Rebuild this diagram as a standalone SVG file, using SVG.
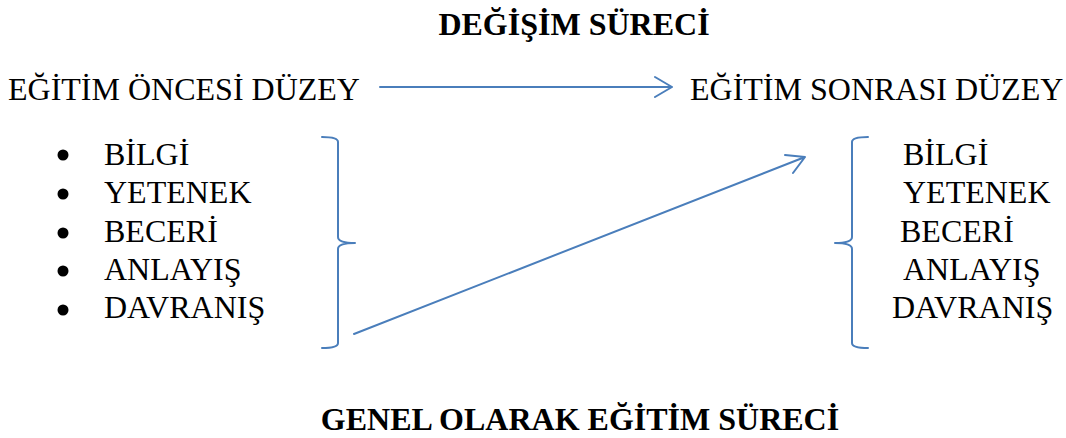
<svg xmlns="http://www.w3.org/2000/svg" width="1066" height="438" viewBox="0 0 1066 438">
<style>
text{font-family:"Liberation Serif","Times New Roman",serif;font-size:32px;fill:#000}
.b{font-weight:bold}
.ln{fill:none;stroke:#4A7EBB;stroke-width:2;stroke-linecap:round;stroke-linejoin:round}
</style>
<rect width="1066" height="438" fill="#fff"/>
<g id="title"><text class="b" x="574" y="35" text-anchor="middle">DEĞİŞİM SÜRECİ</text></g>
<g id="before"><text x="8" y="100">EĞİTİM ÖNCESİ DÜZEY</text></g>
<g id="after"><text x="690" y="100">EĞİTİM SONRASI DÜZEY</text></g>
<g id="left-list">
<circle cx="63" cy="155" r="5.5"/><text x="104" y="165">BİLGİ</text>
<circle cx="63" cy="194" r="5.5"/><text x="104" y="203">YETENEK</text>
<circle cx="63" cy="233" r="5.5"/><text x="104" y="242">BECERİ</text>
<circle cx="63" cy="271" r="5.5"/><text x="104" y="280">ANLAYIŞ</text>
<circle cx="63" cy="310" r="5.5"/><text x="104" y="318">DAVRANIŞ</text>
</g>
<g id="right-list">
<text x="903" y="165">BİLGİ</text>
<text x="903" y="203">YETENEK</text>
<text x="900" y="242">BECERİ</text>
<text x="903" y="280">ANLAYIŞ</text>
<text x="892" y="318">DAVRANIŞ</text>
</g>
<g id="left-brace"><path class="ln" d="M322,137 Q338,137 338,142 L338,237 Q338,243 355,243 Q338,243 338,249 L338,343 Q338,348 322,348"/></g>
<g id="right-brace"><path class="ln" d="M868,137 Q852,137 852,142 L852,237 Q852,243 835,243 Q852,243 852,249 L852,343 Q852,348 868,348"/></g>
<g id="connectors">
<path class="ln" d="M380,87 L672,87 M655,77 L672,87 L655,97"/>
<path class="ln" d="M354,334 L805,157 M785,155 L805,157 L793,173"/>
</g>
<g id="subtitle"><text class="b" x="580" y="430" text-anchor="middle">GENEL OLARAK EĞİTİM SÜRECİ</text></g>
</svg>
